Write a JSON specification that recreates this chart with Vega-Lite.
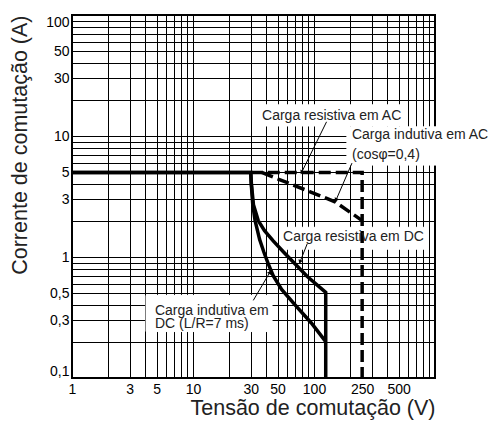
{
  "$schema": "https://vega.github.io/schema/vega-lite/v6.json",
  "width": 363,
  "height": 363,
  "autosize": {"type": "none"},
  "padding": {"left": 72, "top": 15, "right": 53, "bottom": 46},
  "background": "white",
  "config": {"view": {"stroke": "black", "strokeWidth": 2}, "font": "Liberation Sans"},
  "datasets": {
    "boxes": [
      {"x": 33.8, "x2": 576, "y": 18.1, "y2": 12.1},
      {"x": 187, "x2": 1400, "y": 11.9, "y2": 5.75},
      {"x": 52.4, "x2": 859, "y": 1.76, "y2": 1.16},
      {"x": 4.09, "x2": 45, "y": 0.482, "y2": 0.242}
    ],
    "solid": [
      {"s": "dc_res", "o": 1, "x": 1, "y": 5},
      {"s": "dc_res", "o": 2, "x": 30, "y": 5},
      {"s": "dc_res", "o": 3, "x": 30.4, "y": 4},
      {"s": "dc_res", "o": 4, "x": 31.6, "y": 2.7},
      {"s": "dc_res", "o": 5, "x": 34.6, "y": 2},
      {"s": "dc_res", "o": 6, "x": 39, "y": 1.65},
      {"s": "dc_res", "o": 7, "x": 46, "y": 1.36},
      {"s": "dc_res", "o": 8, "x": 56, "y": 1.1},
      {"s": "dc_res", "o": 9, "x": 68, "y": 0.9},
      {"s": "dc_res", "o": 10, "x": 88, "y": 0.69},
      {"s": "dc_res", "o": 11, "x": 125, "y": 0.51},
      {"s": "dc_res", "o": 12, "x": 125, "y": 0.1},
      {"s": "dc_ind", "o": 1, "x": 1, "y": 5},
      {"s": "dc_ind", "o": 2, "x": 30, "y": 5},
      {"s": "dc_ind", "o": 3, "x": 30.3, "y": 4},
      {"s": "dc_ind", "o": 4, "x": 31.2, "y": 2.7},
      {"s": "dc_ind", "o": 5, "x": 32.6, "y": 2},
      {"s": "dc_ind", "o": 6, "x": 35.5, "y": 1.4},
      {"s": "dc_ind", "o": 7, "x": 38.5, "y": 1.1},
      {"s": "dc_ind", "o": 8, "x": 41.8, "y": 0.88},
      {"s": "dc_ind", "o": 9, "x": 46, "y": 0.7},
      {"s": "dc_ind", "o": 10, "x": 54, "y": 0.54},
      {"s": "dc_ind", "o": 11, "x": 70, "y": 0.4},
      {"s": "dc_ind", "o": 12, "x": 95, "y": 0.285},
      {"s": "dc_ind", "o": 13, "x": 125, "y": 0.2}
    ],
    "dashed": [
      {"s": "ac_res", "o": 1, "x": 30, "y": 5},
      {"s": "ac_res", "o": 2, "x": 250, "y": 5},
      {"s": "ac_res", "o": 3, "x": 250, "y": 0.1},
      {"s": "ac_ind", "o": 1, "x": 37, "y": 5},
      {"s": "ac_ind", "o": 2, "x": 43, "y": 4.7},
      {"s": "ac_ind", "o": 3, "x": 93, "y": 3.46},
      {"s": "ac_ind", "o": 4, "x": 149, "y": 2.86},
      {"s": "ac_ind", "o": 5, "x": 250, "y": 2}
    ],
    "leaders": [
      {"k": "a", "x": 127, "y": 13.1, "x2": 79, "y2": 5},
      {"k": "b", "x": 206, "y": 5.97, "x2": 152, "y2": 2.95},
      {"k": "c", "x": 88, "y": 1.29, "x2": 76.6, "y2": 0.91},
      {"k": "d", "x": 31.5, "y": 0.438, "x2": 43.3, "y2": 0.75}
    ],
    "labels": [
      {"x": 37.2, "y": 14.6, "t": "Carga resistiva em AC"},
      {"x": 206, "y": 10.2, "t": "Carga indutiva em AC"},
      {"x": 206, "y": 6.96, "t": "(cosφ=0,4)"},
      {"x": 55.5, "y": 1.46, "t": "Carga resistiva em DC"},
      {"x": 4.85, "y": 0.358, "t": "Carga indutiva em"},
      {"x": 4.85, "y": 0.277, "t": "DC (L/R=7 ms)"}
    ]
  },
  "encoding": {
    "x": {
      "field": "x",
      "type": "quantitative",
      "scale": {"type": "log", "domain": [1, 1000], "nice": false},
      "axis": {
        "title": "Tensão de comutação (V)",
        "values": [1, 2, 3, 4, 5, 6, 7, 8, 9, 10, 20, 30, 40, 50, 60, 70, 80, 90, 100, 200, 250, 300, 400, 500, 600, 700, 800, 900, 1000],
        "labelExpr": "(datum.value == 1 || datum.value == 3 || datum.value == 5 || datum.value == 10 || datum.value == 30 || datum.value == 50 || datum.value == 100 || datum.value == 250 || datum.value == 500) ? format(datum.value, 'd') : ''",
        "grid": true,
        "gridColor": "black",
        "gridWidth": 1,
        "gridOpacity": {"condition": {"test": "datum.value == 250", "value": 0}, "value": 1},
        "zindex": 0,
        "ticks": false,
        "domain": false,
        "labelFlush": false,
        "labelOverlap": false,
        "labelFontSize": 14,
        "labelColor": "black",
        "labelPadding": 4,
        "titleFontSize": 21.5,
        "titleFontWeight": "normal",
        "titleColor": "#222",
        "titleAnchor": "end",
        "titlePadding": 1
      }
    },
    "y": {
      "field": "y",
      "type": "quantitative",
      "scale": {"type": "log", "domain": [0.1, 100], "nice": false},
      "axis": {
        "title": "Corrente de comutação (A)",
        "values": [0.1, 0.2, 0.3, 0.4, 0.5, 0.6, 0.7, 0.8, 0.9, 1, 2, 3, 4, 5, 6, 7, 8, 9, 10, 20, 30, 40, 50, 60, 70, 80, 90, 100],
        "labelExpr": "(datum.value == 0.1 || datum.value == 0.3 || datum.value == 0.5 || datum.value == 1 || datum.value == 3 || datum.value == 5 || datum.value == 10 || datum.value == 30 || datum.value == 50 || datum.value == 100) ? replace(format(datum.value, '~g'), '.', ',') : ''",
        "grid": true,
        "gridColor": "black",
        "gridWidth": 1,
        "zindex": 0,
        "ticks": false,
        "domain": false,
        "labelFlush": true,
        "labelOverlap": false,
        "labelFontSize": 14,
        "labelColor": "black",
        "labelPadding": 3,
        "titleFontSize": 21.5,
        "titleFontWeight": "normal",
        "titleColor": "#222",
        "titleAnchor": "end",
        "titlePadding": 14
      }
    }
  },
  "layer": [
    {
      "data": {"name": "boxes"},
      "mark": {"type": "rect", "fill": "white", "stroke": "white", "strokeWidth": 1, "opacity": 1},
      "encoding": {"x2": {"field": "x2"}, "y2": {"field": "y2"}}
    },
    {
      "data": {"name": "solid"},
      "mark": {"type": "line", "color": "black", "strokeWidth": 3.5, "strokeJoin": "miter", "strokeCap": "butt"},
      "encoding": {"detail": {"field": "s"}, "order": {"field": "o"}}
    },
    {
      "data": {"name": "dashed"},
      "mark": {"type": "line", "color": "black", "strokeWidth": 3.5, "strokeDash": [12, 5], "strokeJoin": "miter", "strokeCap": "butt"},
      "encoding": {"detail": {"field": "s"}, "order": {"field": "o"}}
    },
    {
      "data": {"name": "leaders"},
      "mark": {"type": "rule", "color": "black", "strokeWidth": 1},
      "encoding": {"x2": {"field": "x2"}, "y2": {"field": "y2"}}
    },
    {
      "data": {"name": "leaders"},
      "transform": [{"filter": "datum.k == 'a'"}],
      "mark": {"type": "point", "shape": "triangle-up", "filled": true, "color": "black", "size": 22, "angle": 206, "opacity": 1},
      "encoding": {"x": {"field": "x2", "type": "quantitative"}, "y": {"field": "y2", "type": "quantitative"}}
    },
    {
      "data": {"name": "leaders"},
      "transform": [{"filter": "datum.k == 'b'"}],
      "mark": {"type": "point", "shape": "triangle-up", "filled": true, "color": "black", "size": 22, "angle": 204, "opacity": 1},
      "encoding": {"x": {"field": "x2", "type": "quantitative"}, "y": {"field": "y2", "type": "quantitative"}}
    },
    {
      "data": {"name": "leaders"},
      "transform": [{"filter": "datum.k == 'c'"}],
      "mark": {"type": "point", "shape": "triangle-up", "filled": true, "color": "black", "size": 22, "angle": 200, "opacity": 1},
      "encoding": {"x": {"field": "x2", "type": "quantitative"}, "y": {"field": "y2", "type": "quantitative"}}
    },
    {
      "data": {"name": "leaders"},
      "transform": [{"filter": "datum.k == 'd'"}],
      "mark": {"type": "point", "shape": "triangle-up", "filled": true, "color": "black", "size": 22, "angle": 31, "opacity": 1},
      "encoding": {"x": {"field": "x2", "type": "quantitative"}, "y": {"field": "y2", "type": "quantitative"}}
    },
    {
      "data": {"name": "labels"},
      "mark": {"type": "text", "align": "left", "baseline": "middle", "fontSize": 14, "color": "#222"},
      "encoding": {"text": {"field": "t"}}
    }
  ]
}
